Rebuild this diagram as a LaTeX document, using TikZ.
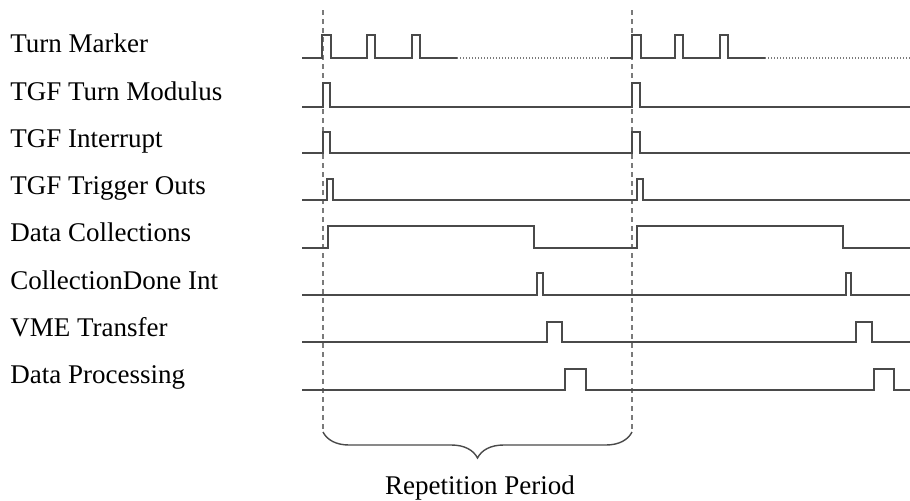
\documentclass[tikz,border=0pt]{standalone}
\usepackage{fontspec}
\setmainfont{Liberation Serif}
\usepackage{xcolor}
\definecolor{trace}{HTML}{4a4a4a}
\definecolor{guide}{HTML}{7a7a7a}
\usetikzlibrary{calc,positioning,decorations.pathreplacing}
\tikzset{
    x=0.5pt,y=-0.5pt,
    sig/.style = {draw=trace, line width=0.8pt, line join=miter},
    dots/.style = {draw=guide, line width=0.8pt, dash pattern=on 0.6pt off 0.9pt},
    period/.style = {draw=guide, line width=0.7pt, dash pattern=on 2.5pt off 2pt},
    lbl/.style = {anchor=base west, inner sep=0pt, font=\fontsize{13.5}{16}\selectfont},
    brc/.style = {draw=trace, line width=0.7pt, decorate, decoration={brace, mirror, amplitude=13pt}}
}

\begin{document}
\begin{tikzpicture}
    \useasboundingbox (0,0) rectangle (910,500);

    % signal names
    \node[lbl] (turn) at (10,52) {Turn Marker};
    \node[lbl] (modulus) at (10,100) {TGF Turn Modulus};
    \node[lbl] (irq) at (10,147) {TGF Interrupt};
    \node[lbl] (trig) at (10,194) {TGF Trigger Outs};
    \node[lbl] (collect) at (10,241) {Data Collections};
    \node[lbl] (done) at (10,289) {CollectionDone Int};
    \node[lbl] (vme) at (10,336) {VME Transfer};
    \node[lbl] (proc) at (10,383) {Data Processing};

    % period markers
    \coordinate (p1top) at (323,10);
    \coordinate (p1bot) at (323,432);
    \coordinate (p2top) at (632,10);
    \coordinate (p2bot) at (632,432);
    \path[period] (p1top) -- (p1bot);
    \path[period] (p2top) -- (p2bot);

    % turn marker
    \path[sig] (302,58) -- (322,58) |- (331,35) |- (367,58) |- (375,35) |- (412,58) |- (420,35) |- (457,58);
    \path[dots] (457,58) -- (610,58);
    \path[sig] (610,58) -- (632,58) |- (641,35) |- (675,58) |- (683,35) |- (720,58) |- (728,35) |- (765,58);
    \path[dots] (765,58) -- (910,58);

    % tgf turn modulus
    \path[sig] (302,107) -- (323,107) |- (330,83) |- (632,107) |- (640,83) |- (910,107);
    % tgf interrupt
    \path[sig] (302,153) -- (323,153) |- (330,132) |- (632,153) |- (640,132) |- (910,153);
    % tgf trigger outs
    \path[sig] (302,200) -- (327,200) |- (333,179) |- (637,200) |- (643,179) |- (910,200);
    % data collections
    \path[sig] (302,248) -- (328,248) |- (534,226) |- (637,248) |- (843,226) |- (910,248);
    % collection done
    \path[sig] (302,295) -- (537,295) |- (543,273) |- (846,295) |- (851,273) |- (910,295);
    % vme transfer
    \path[sig] (302,342) -- (547,342) |- (562,322) |- (856,342) |- (872,322) |- (910,342);
    % data processing
    \path[sig] (302,390) -- (565,390) |- (586,369) |- (874,390) |- (894,369) |- (910,390);

    % repetition period
    \path[brc] (p1bot) -- (p2bot);
    \node[lbl, anchor=base] (rep) at (480,494) {Repetition Period};
\end{tikzpicture}
\end{document}
